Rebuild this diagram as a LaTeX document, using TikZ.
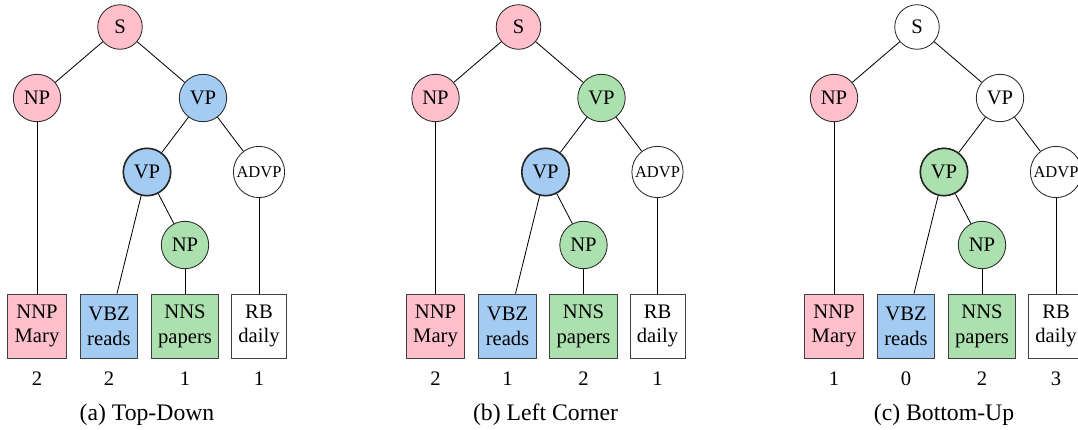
\documentclass[tikz,border=0pt]{standalone}
\usepackage{fontspec}
\setmainfont{Liberation Serif}
\definecolor{tdpink}{HTML}{FFC0CB}
\definecolor{tdblue}{HTML}{A4CBF2}
\definecolor{tdgreen}{HTML}{ACE1AF}
\tikzset{
  phrase/.style={circle,draw=black!85,inner sep=1pt,minimum size=23pt},
  root/.style={phrase,minimum size=21.6pt},
  adverb/.style={phrase,font=\footnotesize},
  focus/.style={line width=0.8pt},
  tagbox/.style={rectangle,draw=black!75,align=center,minimum height=31pt},
  count/.style={inner sep=0pt},
  caption/.style={inner sep=0pt,font=\fontsize{11.5}{13}\selectfont}
}

\begin{document}
\begin{tikzpicture}[x=0.485pt,y=-0.485pt]
 \useasboundingbox (0,0) rectangle (1078,430);
 \clip (0,0) rectangle (1078,430);
 % (a) top-down
 \begin{scope}
 \node[root,fill=tdpink] (sA) at (120,27) {S};
 \node[phrase,fill=tdpink] (npA) at (37,98) {NP};
 \node[phrase,fill=tdblue] (vpA) at (203,98) {VP};
 \node[phrase,focus,fill=tdblue] (vpAb) at (147,172) {VP};
 \node[adverb,fill=white] (advpA) at (259,172) {ADVP};
 \node[phrase,fill=tdgreen] (npAb) at (185,245) {NP};
 \node[tagbox,fill=tdpink] (nnpA) at (37,326) {NNP\\Mary};
 \node[tagbox,fill=tdblue] (vbzA) at (109,326) {VBZ\\reads};
 \node[tagbox,fill=tdgreen] (nnsA) at (185,326) {NNS\\papers};
 \node[tagbox,fill=white] (rbA) at (259,326) {RB\\daily};
 \draw (sA)--(npA); \draw (sA)--(vpA);
 \draw (npA)--(nnpA);
 \draw (vpA)--(vpAb); \draw (vpA)--(advpA);
 \draw (vpAb)--(vbzA); \draw (vpAb)--(npAb);
 \draw (npAb)--(nnsA);
 \draw (advpA)--(rbA);
 \node[count] (cA1) at (37,379) {2};
 \node[count] (cA2) at (109,379) {2};
 \node[count] (cA3) at (185,379) {1};
 \node[count] (cA4) at (259,379) {1};
 \node[caption] (capA) at (147,415) {(a) Top-Down};
 \end{scope}
 % (b) left corner
 \begin{scope}[shift={(398.5,0)}]
 \node[root,fill=tdpink] (sB) at (120,27) {S};
 \node[phrase,fill=tdpink] (npB) at (37,98) {NP};
 \node[phrase,fill=tdgreen] (vpB) at (203,98) {VP};
 \node[phrase,focus,fill=tdblue] (vpBb) at (147,172) {VP};
 \node[adverb,fill=white] (advpB) at (259,172) {ADVP};
 \node[phrase,fill=tdgreen] (npBb) at (185,245) {NP};
 \node[tagbox,fill=tdpink] (nnpB) at (37,326) {NNP\\Mary};
 \node[tagbox,fill=tdblue] (vbzB) at (109,326) {VBZ\\reads};
 \node[tagbox,fill=tdgreen] (nnsB) at (185,326) {NNS\\papers};
 \node[tagbox,fill=white] (rbB) at (259,326) {RB\\daily};
 \draw (sB)--(npB); \draw (sB)--(vpB);
 \draw (npB)--(nnpB);
 \draw (vpB)--(vpBb); \draw (vpB)--(advpB);
 \draw (vpBb)--(vbzB); \draw (vpBb)--(npBb);
 \draw (npBb)--(nnsB);
 \draw (advpB)--(rbB);
 \node[count] (cB1) at (37,379) {2};
 \node[count] (cB2) at (109,379) {1};
 \node[count] (cB3) at (185,379) {2};
 \node[count] (cB4) at (259,379) {1};
 \node[caption] (capB) at (147,415) {(b) Left Corner};
 \end{scope}
 % (c) bottom-up
 \begin{scope}[shift={(797,0)}]
 \node[root,fill=white] (sC) at (120,27) {S};
 \node[phrase,fill=tdpink] (npC) at (37,98) {NP};
 \node[phrase,fill=white] (vpC) at (203,98) {VP};
 \node[phrase,focus,fill=tdgreen] (vpCb) at (147,172) {VP};
 \node[adverb,fill=white] (advpC) at (259,172) {ADVP};
 \node[phrase,fill=tdgreen] (npCb) at (185,245) {NP};
 \node[tagbox,fill=tdpink] (nnpC) at (37,326) {NNP\\Mary};
 \node[tagbox,fill=tdblue] (vbzC) at (109,326) {VBZ\\reads};
 \node[tagbox,fill=tdgreen] (nnsC) at (185,326) {NNS\\papers};
 \node[tagbox,fill=white] (rbC) at (259,326) {RB\\daily};
 \draw (sC)--(npC); \draw (sC)--(vpC);
 \draw (npC)--(nnpC);
 \draw (vpC)--(vpCb); \draw (vpC)--(advpC);
 \draw (vpCb)--(vbzC); \draw (vpCb)--(npCb);
 \draw (npCb)--(nnsC);
 \draw (advpC)--(rbC);
 \node[count] (cC1) at (37,379) {1};
 \node[count] (cC2) at (109,379) {0};
 \node[count] (cC3) at (185,379) {2};
 \node[count] (cC4) at (259,379) {3};
 \node[caption] (capC) at (147,415) {(c) Bottom-Up};
 \end{scope}
\end{tikzpicture}
\end{document}
